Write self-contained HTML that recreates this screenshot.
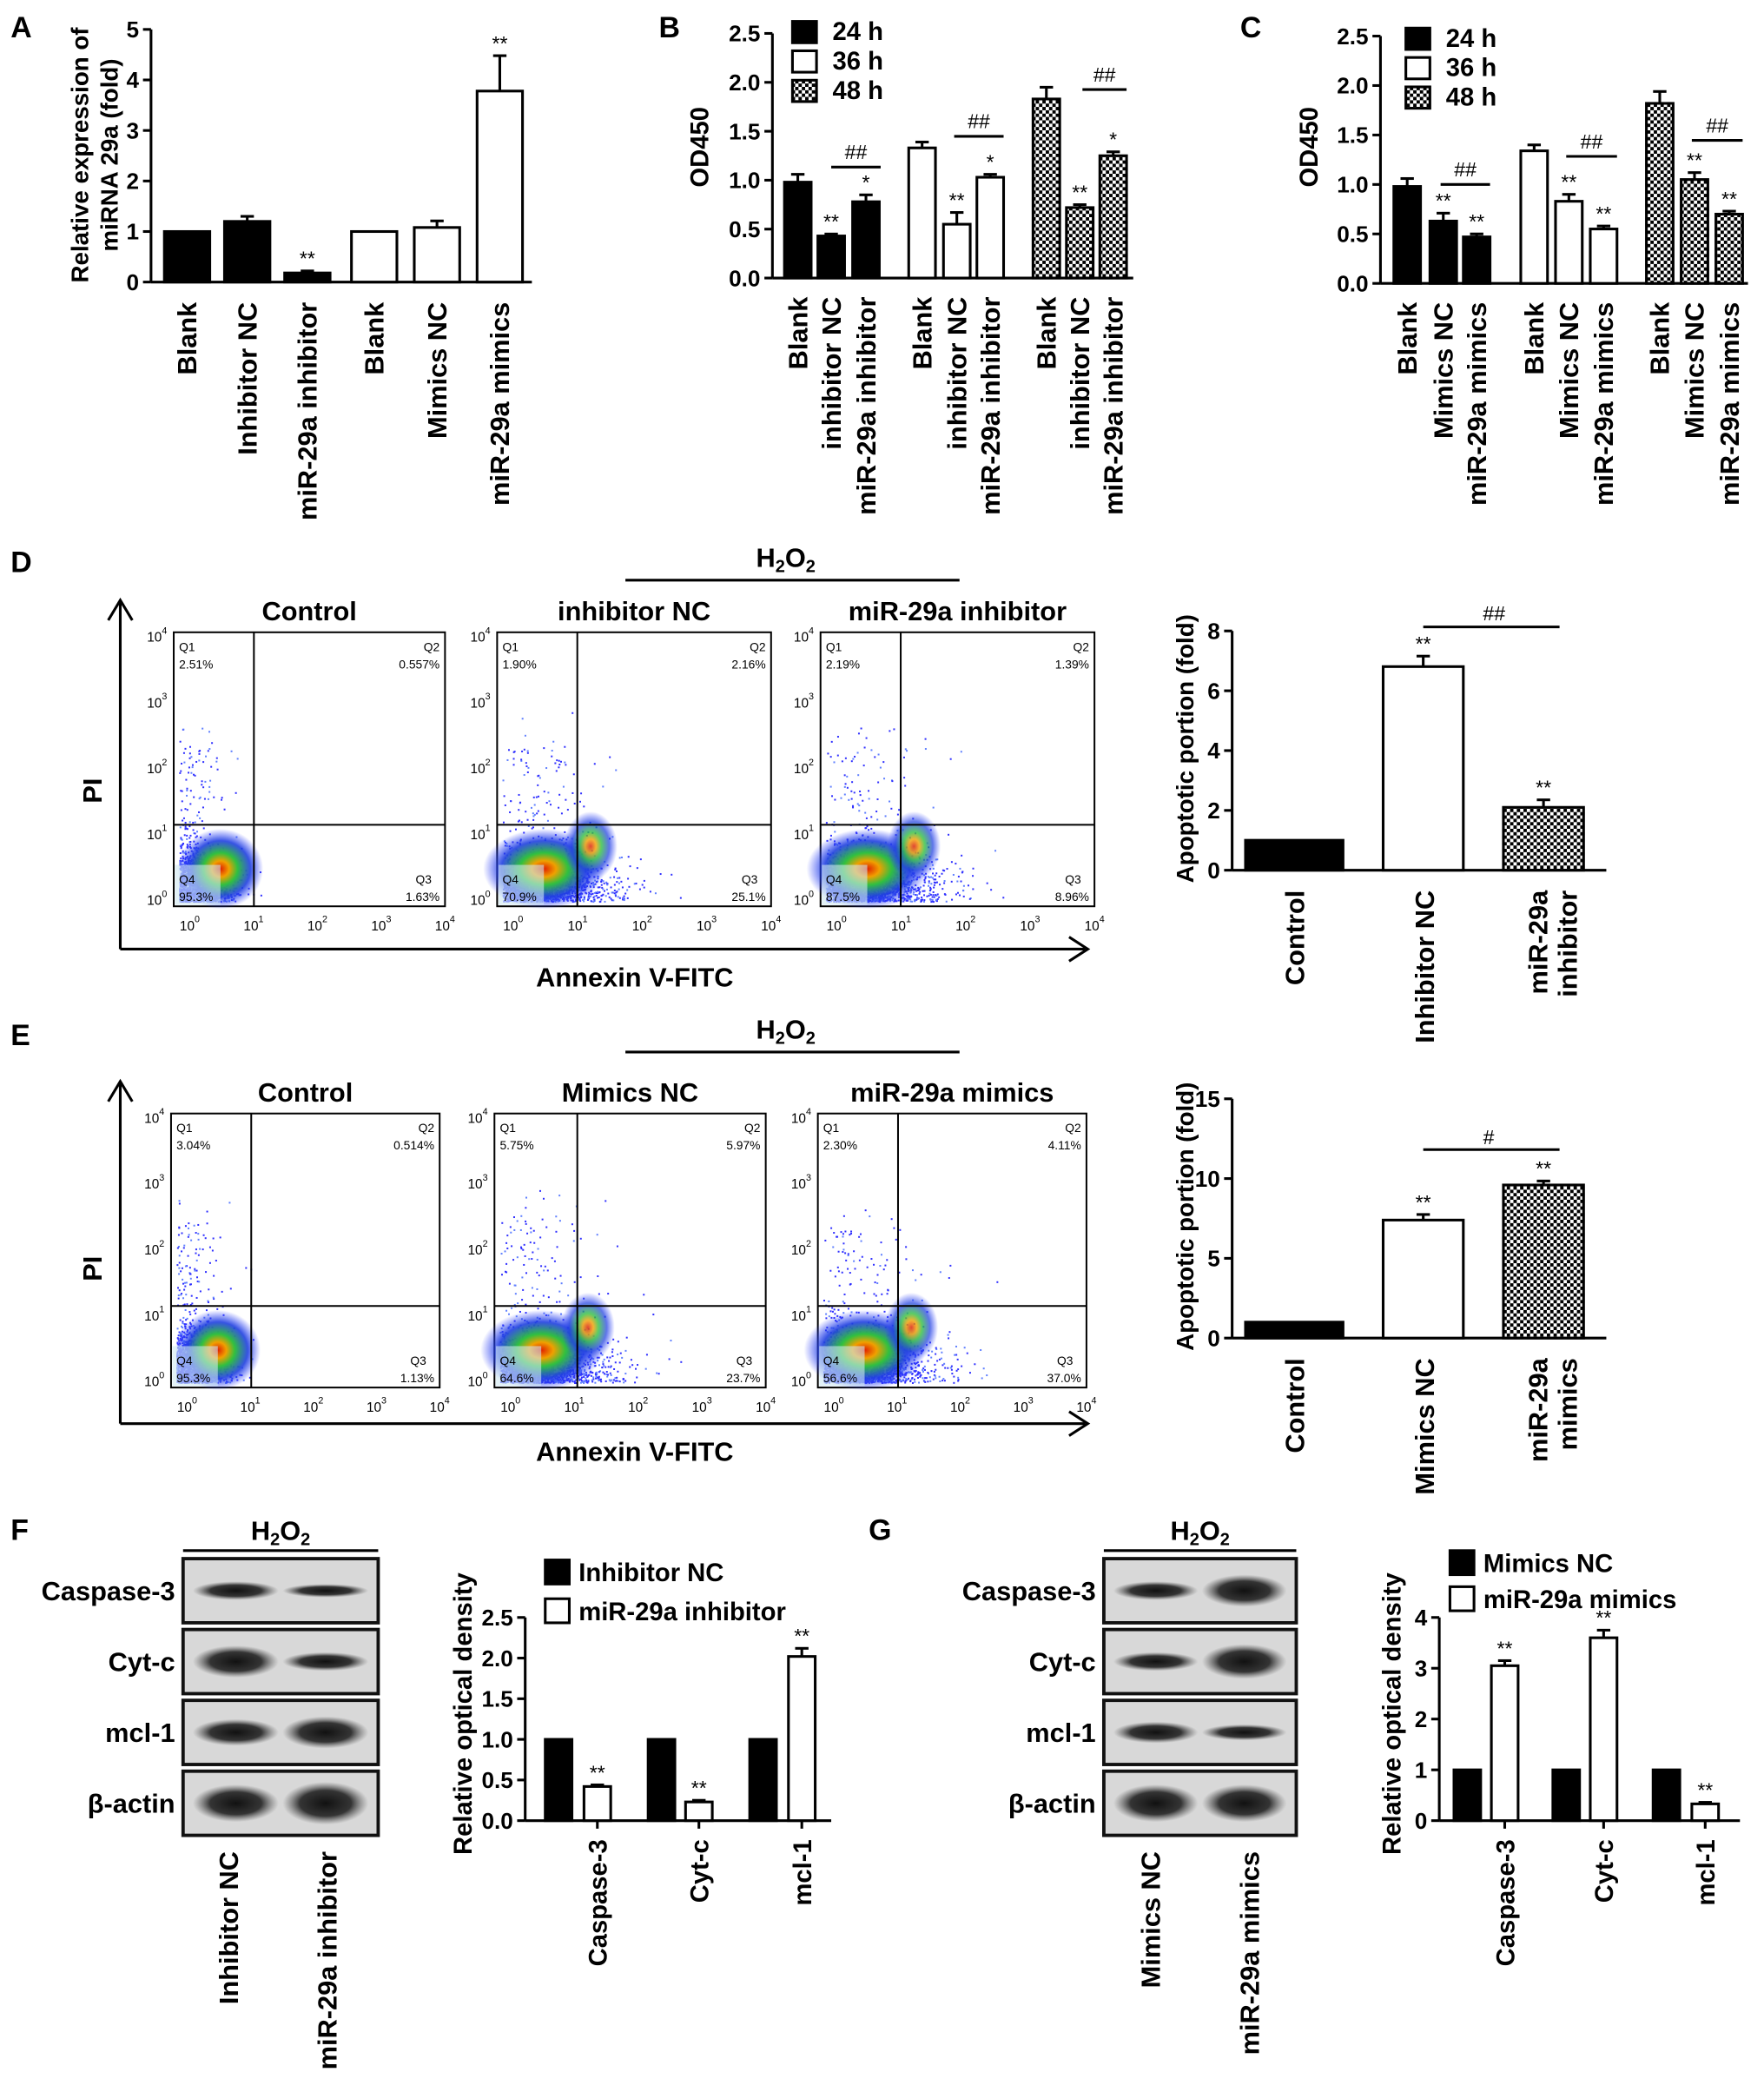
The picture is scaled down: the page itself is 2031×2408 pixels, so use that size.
<!DOCTYPE html>
<html><head><meta charset="utf-8"><style>
html,body{margin:0;padding:0;background:#fff}
svg{display:block;font-family:"Liberation Sans",Arial,sans-serif}
</style></head><body>
<svg id="s" width="2031" height="2408" viewBox="0 0 1320 1565" preserveAspectRatio="none" xmlns="http://www.w3.org/2000/svg">
<defs>
<pattern id="hp" width="5" height="5" patternUnits="userSpaceOnUse"><rect width="5" height="5" fill="#fff"/><rect width="2.5" height="2.5" fill="#000"/><rect x="2.5" y="2.5" width="2.5" height="2.5" fill="#000"/></pattern>
<radialGradient id="blob"><stop offset="0" stop-color="#e02000"/><stop offset="0.2" stop-color="#f0a000"/><stop offset="0.4" stop-color="#30c040"/><stop offset="0.7" stop-color="#2040e0" stop-opacity="0.9"/><stop offset="1" stop-color="#3040ff" stop-opacity="0"/></radialGradient>
<radialGradient id="band"><stop offset="0" stop-color="#111"/><stop offset="0.6" stop-color="#222" stop-opacity="0.9"/><stop offset="1" stop-color="#555" stop-opacity="0"/></radialGradient>
</defs>
<g id="g" font-weight="bold"></g>
</svg>
<script>
const g=document.getElementById('g');let h='';
function t(x,y,s,fs,a,rot,w){h+=`<text x="${x}" y="${y}" font-size="${fs}" text-anchor="${a||'start'}" ${rot?`transform="rotate(-90 ${x} ${y})"`:''} font-weight="${w||'bold'}">${s}</text>`;}
function l(x1,y1,x2,y2,sw){h+=`<line x1="${x1}" y1="${y1}" x2="${x2}" y2="${y2}" stroke="#000" stroke-width="${sw||2}"/>`;}
function r(x,y,w,hh,f,sw){h+=`<rect x="${x}" y="${y}" width="${w}" height="${hh}" fill="${f}" stroke="#000" stroke-width="${sw||2}"/>`;}
function fill(k){return k=='b'?'#000':k=='w'?'#fff':'url(#hp)';}
function bar(x,w,base,u,v,k,e,star){let top=base-v*u;r(x,top,w,v*u,fill(k));if(e){l(x+w/2,top,x+w/2,top-e*u);l(x+w/2-5,top-e*u,x+w/2+5,top-e*u);}if(star)t(x+w/2,top-e*u-4,star,15,'middle',0,'normal');}
function yax(x,top,base,max,step,dec,x2){l(x,top,x,base);l(x,base,x2,base);for(let v=0;v<=max+1e-9;v+=step){let y=base-(v/max)*(base-top);l(x-6,y,x,y);t(x-9,y+6,v.toFixed(dec),17,'end');}}
[['A',8,28],['B',493,28],['C',928,28],['D',8,428],['E',8,782],['F',8,1152],['G',650,1152]].forEach(a=>t(a[1],a[2],a[0],22));
// A
yax(113,22,211,5,1,0,398);
t(66,116,'Relative expression of',18,'middle',1);t(88,116,'miRNA 29a (fold)',18,'middle',1);
let A=[[123,1,'b',0],[168,1.2,'b',.1],[213,.18,'b',.04,'**'],[263,1,'w',0],[310,1.08,'w',.13],[357,3.78,'w',.7,'**']];
let la=['Blank','Inhibitor NC','miR-29a inhibitor','Blank','Mimics NC','miR-29a mimics'];
A.forEach((b,i)=>{bar(b[0],34,211,37.8,b[1],b[2],b[3],b[4]);t(b[0]+24,226,la[i],20,'end',1);});
// B
yax(578,25,208,2.5,0.5,1,848);t(530,110,'OD450',19,'middle',1);
let Bd=[[587,.98,'b',.08],[612,.43,'b',.02,'**'],[638,.78,'b',.07,'*'],[680,1.33,'w',.06],[706,.55,'w',.12,'**'],[731,1.03,'w',.03,'*'],[773,1.83,'h',.12],[798,.72,'h',.03,'**'],[823,1.25,'h',.04,'*']];
let lb=['Blank','inhibitor NC','miR-29a inhibitor'];
Bd.forEach((b,i)=>{bar(b[0],20,208,73.2,b[1],b[2],b[3],b[4]);t(b[0]+17,222,lb[i%3],20,'end',1);});
[[622,659,125],[714,751,102],[810,843,67]].forEach(a=>{l(a[0],a[2],a[1],a[2]);t((a[0]+a[1])/2,a[2]-6,'##',15,'middle',0,'normal');});
[['24 h','b',30],['36 h','w',52],['48 h','h',74]].forEach(a=>{r(593,a[2]-14,18,16,fill(a[1]));t(623,a[2],a[0],19);});
// C
yax(1033,27,212,2.5,0.5,1,1308);t(986,110,'OD450',19,'middle',1);
let Cd=[[1043,.98,'b',.08],[1070,.63,'b',.08,'**'],[1095,.47,'b',.03,'**'],[1138,1.34,'w',.06],[1164,.83,'w',.07,'**'],[1190,.55,'w',.03,'**'],[1232,1.82,'h',.12],[1258,1.05,'h',.07,'**'],[1284,.7,'h',.03,'**']];
let lc=['Blank','Mimics NC','miR-29a mimics'];
Cd.forEach((b,i)=>{bar(b[0],20,212,74,b[1],b[2],b[3],b[4]);t(b[0]+17,226,lc[i%3],20,'end',1);});
[[1078,1115,138],[1172,1210,117],[1266,1304,105]].forEach(a=>{l(a[0],a[2],a[1],a[2]);t((a[0]+a[1])/2,a[2]-6,'##',15,'middle',0,'normal');});
[['24 h','b',35],['36 h','w',57],['48 h','h',79]].forEach(a=>{r(1052,a[2]-14,18,16,fill(a[1]));t(1082,a[2],a[0],19);});
// flow
let seed=7;function rnd(){seed=(seed*16807)%2147483647;return seed/2147483647;}
function gau(){return (rnd()+rnd()+rnd()+rnd()-2)/1.2;}
function flow(x0,y0,w,hh,vx,hy,title,q,spread){r(x0,y0,w,hh,'none',1.3);
 let n=1800;for(let i=0;i<n;i++){let dx=Math.abs(gau())*(26+spread*0.5),dy=Math.abs(gau())*34;let px=x0+4+dx*(0.8+rnd()),py=y0+hh-4-dy*(0.6+rnd()*0.8);if(rnd()<0.08)py-=rnd()*110;if(spread&&rnd()<0.4)px+=rnd()*spread*0.8;if(px>x0+w-2||py<y0+2)continue;h+=`<rect x="${px.toFixed(1)}" y="${py.toFixed(1)}" width="1.3" height="1.3" fill="${rnd()<0.7?'#3030ff':'#6080ff'}"/>`;}
 h+=`<ellipse cx="${x0+35}" cy="${y0+hh-28}" rx="${32+spread*0.3}" ry="30" fill="url(#blob)"/>`;
 if(spread)h+=`<ellipse cx="${x0+70}" cy="${y0+hh-45}" rx="20" ry="26" fill="url(#blob)" opacity="0.8"/>`;
 h+=`<rect x="${x0+1}" y="${y0+hh-31}" width="${34}" height="30" fill="#cfe8f0" opacity="0.6"/>`;
 l(vx,y0,vx,y0+hh,1.3);l(x0,hy,x0+w,hy,1.3);
 t(x0+w/2,y0-9,title,20,'middle');
 t(x0+4,y0+14,'Q1',9,'start',0,'normal');t(x0+4,y0+27,q[0],9,'start',0,'normal');
 t(x0+w-4,y0+14,'Q2',9,'end',0,'normal');t(x0+w-4,y0+27,q[1],9,'end',0,'normal');
 t(x0+4,y0+hh-17,'Q4',9,'start',0,'normal');t(x0+4,y0+hh-4,q[3],9,'start',0,'normal');
 t(x0+w-22,y0+hh-17,'Q3',9,'start',0,'normal');t(x0+w-4,y0+hh-4,q[2],9,'end',0,'normal');
 for(let i=0;i<5;i++){let yy=y0+hh-i*(hh-8)/4-5;t(x0-5,yy+4,'10<tspan font-size="7" dy="-6">'+i+'</tspan>',10,'end',0,'normal');let xx=x0+12+i*(w-12)/4;t(xx,y0+hh+18,'10<tspan font-size="7" dy="-6">'+i+'</tspan>',10,'middle',0,'normal');}
}
function flowRow(y0,titles,qs,xs,ws,hh,vxs,hy,axisY,h2y){
 xs.forEach((x,i)=>flow(x,y0,ws[i],hh,vxs[i],hy,titles[i],qs[i],i?45:0));
 l(90,axisY,812,axisY,2);h+=`<polyline points="800,${axisY-9} 814,${axisY} 800,${axisY+9}" fill="none" stroke="#000" stroke-width="2"/>`;
 l(90,axisY,90,y0-22,2);h+=`<polyline points="81,${y0-9} 90,${y0-24} 99,${y0-9}" fill="none" stroke="#000" stroke-width="2"/>`;
 t(76,(y0+axisY)/2,'PI',20,'middle',1);t(475,axisY+28,'Annexin V-FITC',20,'middle');
 l(468,h2y,718,h2y,2);t(588,h2y-10,'H<tspan font-size="13" dy="4">2</tspan><tspan dy="-4">O</tspan><tspan font-size="13" dy="4">2</tspan>',20,'middle');
}
flowRow(473,['Control','inhibitor NC','miR-29a inhibitor'],[['2.51%','0.557%','1.63%','95.3%'],['1.90%','2.16%','25.1%','70.9%'],['2.19%','1.39%','8.96%','87.5%']],[130,372,614],[203,205,205],205,[190,432,674],617,710,434);
flowRow(833,['Control','Mimics NC','miR-29a mimics'],[['3.04%','0.514%','1.13%','95.3%'],['5.75%','5.97%','23.7%','64.6%'],['2.30%','4.11%','37.0%','56.6%']],[128,370,612],[201,203,201],205,[188,432,672],977,1065,787);
// D bar
yax(922,472,651,8,2,0,1202);t(893,560,'Apoptotic portion (fold)',18,'middle',1);
bar(932,73,651,22.4,1,'b',0);bar(1035,60,651,22.4,6.8,'w',.35,'**');bar(1125,60,651,22.4,2.1,'h',.25,'**');
l(1065,469,1167,469);t(1118,464,'##',15,'middle',0,'normal');
[['Control',968],['Inhibitor NC',1065],['miR-29a',1150],['inhibitor',1172]].forEach(a=>t(a[1]+8,666,a[0],20,'end',1));
// E bar
yax(922,822,1001,15,5,0,1202);t(893,910,'Apoptotic portion (fold)',18,'middle',1);
bar(932,73,1001,11.93,1,'b',0);bar(1035,60,1001,11.93,7.4,'w',.35,'**');bar(1125,60,1001,11.93,9.6,'h',.25,'**');
l(1065,860,1167,860);t(1114,856,'#',15,'middle',0,'normal');
[['Control',968],['Mimics NC',1065],['miR-29a',1150],['mimics',1172]].forEach(a=>t(a[1]+8,1016,a[0],20,'end',1));
// blots
function blot(x,w,ys,names,bands,h2x){l(h2x[0],1160,h2x[1],1160,2);t((h2x[0]+h2x[1])/2,1152,'H<tspan font-size="13" dy="4">2</tspan><tspan dy="-4">O</tspan><tspan font-size="13" dy="4">2</tspan>',20,'middle');
 ys.forEach((y,i)=>{h+=`<rect x="${x}" y="${y}" width="${w}" height="48" fill="#d8d8d8" stroke="#111" stroke-width="2.5"/>`;
 bands[i].forEach((b,j)=>{h+=`<ellipse cx="${x+w*(j?0.73:0.27)}" cy="${y+24}" rx="${w*0.22}" ry="${b}" fill="url(#band)"/>`;});
 t(x-6,y+31,names[i],20,'end');});}
blot(137,146,[1166,1219,1272,1325],['Caspase-3','Cyt-c','mcl-1','β-actin'],[[7,5],[12,7],[10,12],[14,16]],[137,283]);
blot(826,144,[1166,1219,1272,1325],['Caspase-3','Cyt-c','mcl-1','β-actin'],[[7,12],[7,13],[8,6],[14,14]],[826,970]);
t(178,1385,'Inhibitor NC',20,'end',1);t(252,1385,'miR-29a inhibitor',20,'end',1);
t(868,1385,'Mimics NC',20,'end',1);t(942,1385,'miR-29a mimics',20,'end',1);
// F bar
yax(393,1210,1362,2.5,0.5,1,622);t(353,1282,'Relative optical density',19,'middle',1);
[[408,1,'b',0],[437,.42,'w',.02,'**'],[485,1,'b',0],[513,.23,'w',.02,'**'],[561,1,'b',0],[590,2.02,'w',.1,'**']].forEach(b=>bar(b[0],20,1362,60.8,b[1],b[2],b[3],b[4]));
[['Caspase-3',447],['Cyt-c',523],['mcl-1',600]].forEach(a=>{l(a[1],1362,a[1],1368);t(a[1]+7,1376,a[0],19,'end',1);});
r(408,1167,18,18,'#000');t(433,1183,'Inhibitor NC',19);r(408,1196,18,18,'#fff');t(433,1212,'miR-29a inhibitor',19);
// G bar
yax(1077,1210,1362,4,1,0,1302);t(1048,1282,'Relative optical density',19,'middle',1);
[[1088,1,'b',0],[1116,3.05,'w',.1,'**'],[1162,1,'b',0],[1190,3.6,'w',.15,'**'],[1237,1,'b',0],[1266,.33,'w',.03,'**']].forEach(b=>bar(b[0],20,1362,38,b[1],b[2],b[3],b[4]));
[['Caspase-3',1126],['Cyt-c',1200],['mcl-1',1276]].forEach(a=>{l(a[1],1362,a[1],1368);t(a[1]+7,1376,a[0],19,'end',1);});
r(1085,1160,18,18,'#000');t(1110,1176,'Mimics NC',19);r(1085,1187,18,18,'#fff');t(1110,1203,'miR-29a mimics',19);
g.innerHTML=h;
</script>
</body></html>
